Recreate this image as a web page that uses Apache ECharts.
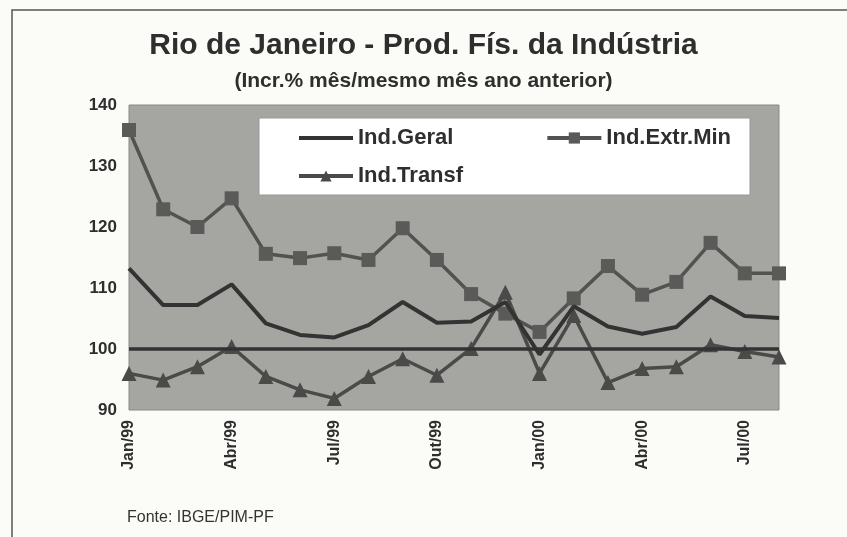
<!DOCTYPE html>
<html>
<head>
<meta charset="utf-8">
<script src="https://cdn.jsdelivr.net/npm/echarts@6/dist/echarts.min.js"></script>
<style>
  html, body { margin: 0; padding: 0; background: #fbfbf7; }
</style>
</head>
<body>
<div id="main" style="width: 847px;height: 537px"></div>

<script type="text/javascript">
    // meses (Jan/99 .. Ago/00)
    var meses = ['Jan/99', 'Fev/99', 'Mar/99', 'Abr/99', 'Mai/99', 'Jun/99', 'Jul/99', 'Ago/99', 'Set/99', 'Out/99',
                 'Nov/99', 'Dez/99', 'Jan/00', 'Fev/00', 'Mar/00', 'Abr/00', 'Mai/00', 'Jun/00', 'Jul/00', 'Ago/00'];

    // valores
    var indGeral = [113.2, 107.2, 107.2, 110.6, 104.2, 102.3, 101.9, 103.9, 107.7, 104.3,
                    104.5, 107.7, 99.1, 107.0, 103.7, 102.5, 103.6, 108.6, 105.4, 105.1];
    var indExtrMin = [135.9, 122.9, 120.0, 124.7, 115.6, 114.9, 115.7, 114.6, 119.8, 114.6,
                      109.0, 105.8, 102.8, 108.3, 113.6, 108.9, 111.0, 117.4, 112.4, 112.4];
    var indTransf = [96.0, 94.9, 97.1, 100.4, 95.5, 93.3, 91.9, 95.5, 98.4, 95.7,
                     100.1, 109.3, 96.0, 105.5, 94.5, 96.8, 97.1, 100.7, 99.6, 98.7];
    var base = 100;

    var yMin = 90, yMax = 140, yStep = 10;

    var fonte = 'Liberation Sans, Arial, sans-serif';
    var escuro = '#2e2e2e';

    var myChart = echarts.init(document.getElementById('main'));

    var option = {
        backgroundColor: '#fbfbf7',
        textStyle: { fontFamily: fonte },
        title: [{
            text: 'Rio de Janeiro - Prod. Fís. da Indústria',
            left: 'center',
            top: 26,
            textStyle: { fontSize: 30, fontWeight: 'bold', color: escuro, fontFamily: fonte }
        }, {
            text: '(Incr.% mês/mesmo mês ano anterior)',
            left: 'center',
            top: 66,
            textStyle: { fontSize: 21, fontWeight: 'bold', color: escuro, fontFamily: fonte }
        }, {
            text: 'Fonte: IBGE/PIM-PF',
            left: 122,
            top: 505,
            textStyle: { fontSize: 16, fontWeight: 'normal', color: '#333', fontFamily: fonte }
        }],
        // moldura e fundo da legenda
        graphic: [{
            type: 'rect',
            shape: { x: 12, y: 10, width: 900, height: 600 },
            style: { fill: 'none', stroke: '#555', lineWidth: 1.5 },
            z: 0
        }, {
            type: 'rect',
            shape: { x: 259, y: 118, width: 491, height: 77 },
            style: { fill: '#ffffff', stroke: '#999', lineWidth: 1 },
            z: 3
        }],
        legend: [{
            data: [{ name: 'Ind.Geral', itemStyle: { opacity: 0 } }, 'Ind.Extr.Min'],
            left: 292,
            top: 122,
            itemWidth: 54,
            itemHeight: 14,
            itemGap: 92,
            z: 5,
            lineStyle: { width: 4 },
            textStyle: { fontSize: 22, fontWeight: 'bold', color: escuro, fontFamily: fonte }
        }, {
            data: ['Ind.Transf'],
            left: 292,
            top: 160,
            itemWidth: 54,
            itemHeight: 14,
            z: 5,
            lineStyle: { width: 4 },
            textStyle: { fontSize: 22, fontWeight: 'bold', color: escuro, fontFamily: fonte }
        }],
        grid: {
            left: 129,
            right: 68,
            top: 105,
            bottom: 127,
            show: true,
            backgroundColor: '#a5a5a2',
            borderColor: '#888886',
            borderWidth: 1
        },
        xAxis: {
            type: 'category',
            data: meses,
            boundaryGap: false,
            axisLine: { show: false },
            axisTick: { show: false },
            axisLabel: {
                interval: 2,
                rotate: 90,
                margin: 10,
                fontSize: 16,
                fontWeight: 'bold',
                color: escuro,
                fontFamily: fonte
            }
        },
        yAxis: {
            type: 'value',
            min: yMin,
            max: yMax,
            interval: yStep,
            splitLine: { show: false },
            axisLine: { show: false },
            axisTick: { show: false },
            axisLabel: {
                margin: 12,
                fontSize: 17,
                fontWeight: 'bold',
                color: escuro,
                fontFamily: fonte
            }
        },
        series: [{
            name: 'Ind.Geral',
            type: 'line',
            data: indGeral,
            symbol: 'none',
            z: 3,
            itemStyle: { color: '#333333' },
            lineStyle: { color: '#333333', width: 4 },
            markLine: {
                silent: true,
                symbol: 'none',
                label: { show: false },
                lineStyle: { color: '#333333', width: 3.5, type: 'solid' },
                data: [{ yAxis: base }]
            }
        }, {
            name: 'Ind.Extr.Min',
            type: 'line',
            data: indExtrMin,
            symbol: 'rect',
            symbolSize: 14,
            z: 2,
            itemStyle: { color: '#5a5a58' },
            lineStyle: { color: '#525250', width: 3.5 }
        }, {
            name: 'Ind.Transf',
            type: 'line',
            data: indTransf,
            symbol: 'triangle',
            symbolSize: 15,
            z: 2,
            itemStyle: { color: '#4a4a48' },
            lineStyle: { color: '#4a4a48', width: 3.5 }
        }]
    };

    myChart.setOption(option);
</script>
</body>
</html>
